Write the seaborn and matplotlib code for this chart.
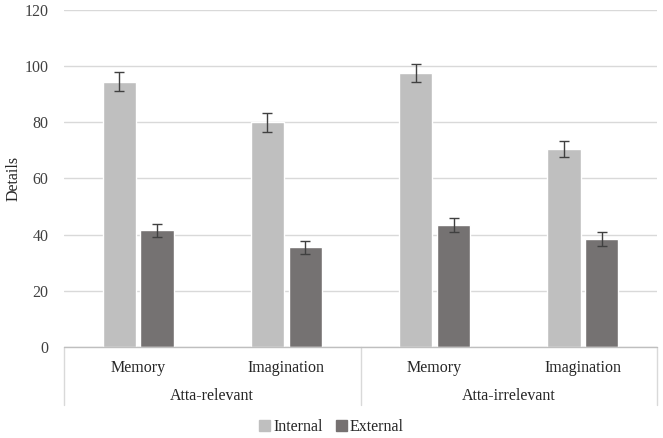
import pandas as pd
import numpy as np
import seaborn as sns
import matplotlib.pyplot as plt

# # # DATA # # #
conditions = ["Memory", "Imagination", "Memory", "Imagination"]
groups = ["Atta-relevant", "Atta-irrelevant"]
internal = [94.5, 80.0, 97.6, 70.4]
external = [41.5, 35.5, 43.4, 38.4]
internal_err = [3.3, 3.4, 3.1, 2.9]
external_err = [2.2, 2.3, 2.6, 2.5]

slots = ["c0", "c1", "c2", "c3"]
df = pd.DataFrame({
    "slot": slots * 2,
    "Details": internal + external,
    "type": ["Internal"] * 4 + ["External"] * 4,
})

sns.set_style("white")
plt.rcParams['font.family'] = ['Liberation Serif', 'DejaVu Serif']
fs = 11.5

fig = plt.figure(figsize=(6.63, 4.38), dpi=100)
ax = fig.add_axes([0.0965, 0.208, 0.8945, 0.769])

sns.barplot(data=df, x="slot", y="Details", hue="type", order=slots,
            hue_order=["Internal", "External"],
            palette={"Internal": "#BFBFBF", "External": "#767171"},
            width=0.51, gap=0.125, errorbar=None, ax=ax, zorder=2)

# error bars on top of each bar
errs = internal_err + external_err
for bar, val, e in zip(ax.patches, internal + external, errs):
    cx = bar.get_x() + bar.get_width() / 2
    ax.errorbar(cx, val, yerr=e, color="#404040", capsize=3.3, elinewidth=1,
                capthick=1, zorder=3)

ax.set_xlim(-0.5, 3.5)
ax.set_ylim(0, 120)
ax.set_yticks(range(0, 121, 20))
ax.yaxis.grid(True, color="#D9D9D9", linewidth=1)
ax.set_axisbelow(True)
for s in ax.spines.values():
    s.set_visible(False)
ax.tick_params(axis="y", length=0, labelsize=fs, colors="#404040", pad=11)
ax.set_xticks([])
ax.set_xlabel("")
ax.set_ylabel("")
fig.text(0.021, 0.592, "Details", rotation=90, ha="center", va="center", fontsize=fs)

# # # MULTI-LEVEL CATEGORY AXIS # # #
tr = ax.get_xaxis_transform()
ax.plot([-0.5, 3.5], [0, 0], transform=tr, color="#BFBFBF", lw=1, clip_on=False, zorder=4)
for xv in [-0.5, 1.5, 3.5]:
    ax.plot([xv, xv], [0, -0.172], transform=tr, color="#D9D9D9", lw=1, clip_on=False)
for i, c in enumerate(conditions):
    ax.text(i, -0.062, c, transform=tr, ha="center", va="center", fontsize=fs, color="#262626")
for j, g in enumerate(groups):
    ax.text(0.5 + 2 * j, -0.145, g, transform=tr, ha="center", va="center", fontsize=fs, color="#262626")

ax.get_legend().remove()
handles = [plt.Rectangle((0, 0), 1, 1, color="#BFBFBF"),
           plt.Rectangle((0, 0), 1, 1, color="#767171")]
fig.legend(handles, ["Internal", "External"], loc="center", bbox_to_anchor=(0.5, 0.025),
           ncol=2, frameon=False, fontsize=fs, handlelength=0.7, handleheight=0.7,
           handletextpad=0.2, columnspacing=0.8)

plt.savefig("out.png", dpi=100)
